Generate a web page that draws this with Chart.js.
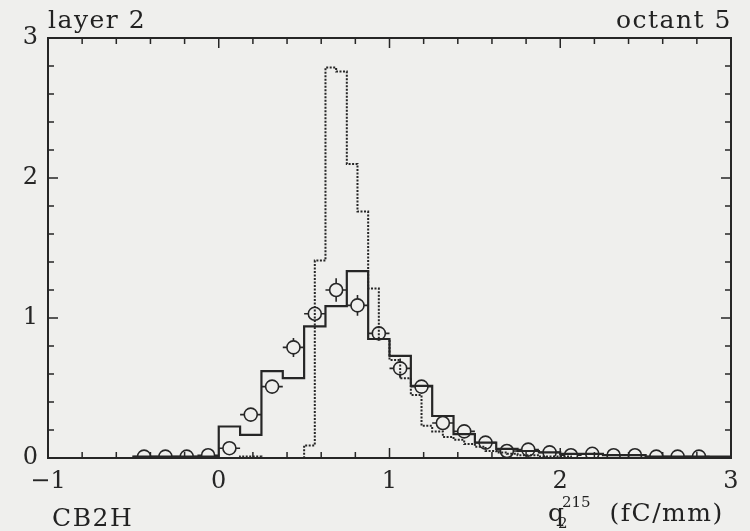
<!DOCTYPE html>
<html>
<head>
<meta charset="utf-8">
<script src="https://cdn.jsdelivr.net/npm/chart.js@4/dist/chart.umd.min.js"></script>
<style>
  html, body { margin: 0; padding: 0; background: #efefed; }
  #wrap { position: relative; width: 750px; height: 531px; overflow: hidden; }
  canvas { position: absolute; left: 0; top: 0; }
  .lbl { position: absolute; font-family: "DejaVu Serif", serif; font-size: 25px; color: #222; line-height: 1; white-space: nowrap; letter-spacing: 1.5px; }
  .sup, .sub { font-size: 15px; position: absolute; letter-spacing: 0; }
</style>
</head>
<body>
<div id="wrap">
  <canvas id="chart" width="750" height="531"></canvas>
  <div class="lbl" style="left:48px; top:7px;">layer 2</div>
  <div class="lbl" style="right:18px; top:7px;">octant 5</div>
  <div class="lbl" style="left:52px; top:505px;">CB2H</div>
  <div class="lbl" style="left:548px; top:500px;">q<span class="sup" style="left:14px; top:-5px;">215</span><span class="sub" style="left:10px; top:16px;">2</span><span style="margin-left:44px;">(fC/mm)</span></div>
</div>
<script>
// === Data ===
const xTicks = [-1, 0, 1, 2, 3];
const yTicks = [0, 1, 2, 3];

// solid histogram, bin width 0.125, left edges start at -0.5
const solidStart = -0.5;
const solidWidth = 0.125;
const solidValues = [0.01, 0.01, 0.01, 0.01, 0.225, 0.165, 0.62, 0.57, 0.94, 1.085, 1.335, 0.85,
    0.73, 0.515, 0.30, 0.17, 0.11, 0.065, 0.05, 0.04, 0.03, 0.03, 0.02, 0.02, 0.01, 0.01, 0.01, 0.01];

// dotted histogram, bin width 0.0625, left edges start at 0.125
const dotStart = 0.125;
const dotWidth = 0.0625;
const dotValues = [0.01, 0.01, 0, 0, 0, 0, 0.09, 1.41, 2.79, 2.76, 2.10, 1.76, 1.21, 0.85,
    0.70, 0.57, 0.45, 0.23, 0.19, 0.15, 0.13, 0.10, 0.08, 0.05, 0.04, 0.03, 0.02, 0.02, 0.01, 0.01, 0.01];

// data points (open circles) at bin centres
const pointX = [-0.4375, -0.3125, -0.1875, -0.0625, 0.0625, 0.1875, 0.3125, 0.4375, 0.5625, 0.6875,
    0.8125, 0.9375, 1.0625, 1.1875, 1.3125, 1.4375, 1.5625, 1.6875, 1.8125, 1.9375, 2.0625,
    2.1875, 2.3125, 2.4375, 2.5625, 2.6875, 2.8125];
const pointY = [0.01, 0.01, 0.01, 0.02, 0.07, 0.31, 0.51, 0.79, 1.03, 1.20, 1.09, 0.89, 0.64, 0.51,
    0.25, 0.19, 0.11, 0.05, 0.06, 0.04, 0.02, 0.03, 0.02, 0.02, 0.01, 0.01, 0.01];
const pointErr = [0.01, 0.01, 0.01, 0.01, 0.02, 0.03, 0.04, 0.068, 0.05, 0.084, 0.074, 0.05, 0.07, 0.04,
    0.03, 0.025, 0.02, 0.015, 0.015, 0.01, 0.01, 0.01, 0.01, 0.01, 0.01, 0.01, 0.01];
const pointHalfWidth = 0.0625;

const ink = '#262626';

// === Helpers ===
function histPoints(start, width, values) {
    const pts = [{ x: start, y: 0 }];
    values.forEach((v, i) => pts.push({ x: start + i * width, y: v }));
    pts.push({ x: start + values.length * width, y: 0 });
    return pts;
}

// frame, inward ticks and error bars
const framePlugin = {
    id: 'frame',
    afterDatasetsDraw(chart) {
        const { ctx, chartArea: a, scales } = chart;
        const xs = scales.x, ys = scales.y;
        ctx.save();
        ctx.strokeStyle = ink;

        // error bars, drawn only outside the circle, clipped to the plot
        ctx.save();
        ctx.beginPath();
        ctx.rect(a.left, a.top, a.right - a.left, a.bottom - a.top);
        ctx.clip();
        const r = 6.5;
        ctx.lineWidth = 1.6;
        pointX.forEach((x, i) => {
            const px = xs.getPixelForValue(x);
            const py = ys.getPixelForValue(pointY[i]);
            const xl = xs.getPixelForValue(x - pointHalfWidth);
            const xr = xs.getPixelForValue(x + pointHalfWidth);
            const yt = ys.getPixelForValue(pointY[i] + pointErr[i]);
            const yb = ys.getPixelForValue(Math.max(0, pointY[i] - pointErr[i]));
            ctx.beginPath();
            ctx.moveTo(xl, py); ctx.lineTo(px - r, py);
            ctx.moveTo(px + r, py); ctx.lineTo(xr, py);
            if (py - yt > r) { ctx.moveTo(px, yt); ctx.lineTo(px, py - r); }
            if (yb - py > r) { ctx.moveTo(px, py + r); ctx.lineTo(px, yb); }
            ctx.stroke();
        });
        ctx.restore();

        // frame
        ctx.lineWidth = 2;
        ctx.strokeRect(a.left, a.top, a.right - a.left, a.bottom - a.top);

        // ticks pointing inward on all four sides
        ctx.lineWidth = 1.5;
        ctx.beginPath();
        for (let k = 0; k <= 20; k++) {
            const v = -1 + k * 0.2;
            const px = xs.getPixelForValue(v);
            const len = k % 5 === 0 ? 10 : 6;
            ctx.moveTo(px, a.bottom); ctx.lineTo(px, a.bottom - len);
            ctx.moveTo(px, a.top); ctx.lineTo(px, a.top + len);
        }
        for (let k = 0; k <= 15; k++) {
            const v = k * 0.2;
            const py = ys.getPixelForValue(v);
            const len = k % 5 === 0 ? 10 : 6;
            ctx.moveTo(a.left, py); ctx.lineTo(a.left + len, py);
            ctx.moveTo(a.right, py); ctx.lineTo(a.right - len, py);
        }
        ctx.stroke();
        ctx.restore();
    }
};

const tickFont = { family: '"DejaVu Serif", serif', size: 24 };

new Chart(document.getElementById('chart'), {
    type: 'scatter',
    data: {
        datasets: [
            {
                type: 'line',
                data: histPoints(dotStart, dotWidth, dotValues),
                stepped: 'before',
                borderColor: ink,
                borderWidth: 2,
                borderDash: [2, 1.5],
                pointRadius: 0,
                fill: false
            },
            {
                type: 'line',
                data: histPoints(solidStart, solidWidth, solidValues),
                stepped: 'before',
                borderColor: ink,
                borderWidth: 2.2,
                pointRadius: 0,
                fill: false
            },
            {
                type: 'scatter',
                data: pointX.map((x, i) => ({ x: x, y: pointY[i] })),
                clip: 0,
                pointStyle: 'circle',
                pointRadius: 6.5,
                pointBackgroundColor: 'rgba(0,0,0,0)',
                pointBorderColor: ink,
                pointBorderWidth: 1.6
            }
        ]
    },
    options: {
        responsive: false,
        animation: false,
        devicePixelRatio: 1,
        layout: { padding: { top: 38, right: 19, left: 0, bottom: 0 } },
        plugins: { legend: { display: false }, tooltip: { enabled: false } },
        scales: {
            x: {
                type: 'linear',
                min: -1, max: 3,
                afterFit: s => { s.height = 73; },
                afterBuildTicks: s => { s.ticks = xTicks.map(v => ({ value: v })); },
                grid: { display: false, drawTicks: false },
                border: { display: false },
                ticks: {
                    padding: 9,
                    color: ink,
                    font: tickFont,
                    maxRotation: 0,
                    callback: v => String(v).replace('-', '\u2212')
                }
            },
            y: {
                min: 0, max: 3,
                afterFit: s => { s.width = 48; },
                afterBuildTicks: s => { s.ticks = yTicks.map(v => ({ value: v })); },
                grid: { display: false, drawTicks: false },
                border: { display: false },
                ticks: { padding: 10, color: ink, font: tickFont }
            }
        }
    },
    plugins: [framePlugin]
});
</script>
</body>
</html>
